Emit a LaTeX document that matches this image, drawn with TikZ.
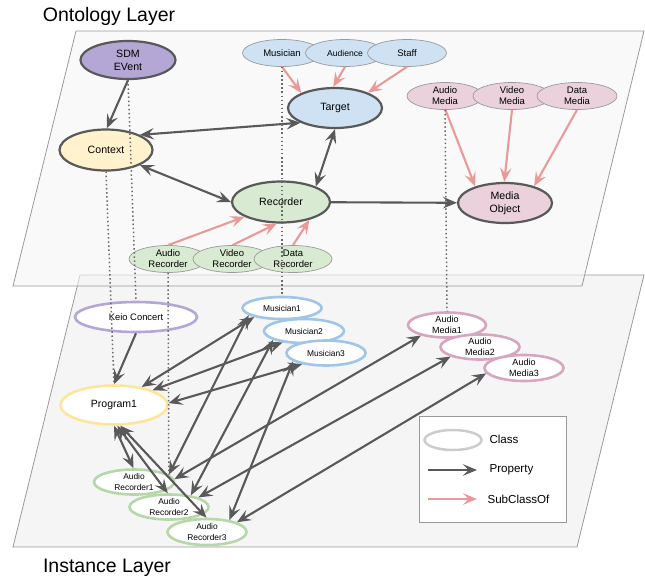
\documentclass[tikz,border=0pt]{standalone}
\usepackage{fontspec}
\setmainfont{Liberation Sans}
\usetikzlibrary{arrows.meta}
\usetikzlibrary{shapes.geometric}

\definecolor{dgray}{HTML}{595959}
\definecolor{lgray}{HTML}{9A9A9A}
\definecolor{planec}{HTML}{F5F5F5}
\definecolor{pinkc}{HTML}{EA9999}
\definecolor{purpf}{HTML}{B4A7D6}
\definecolor{yelf}{HTML}{FFF2CC}
\definecolor{bluef}{HTML}{CFE2F3}
\definecolor{greenf}{HTML}{D9EAD3}
\definecolor{pinkf}{HTML}{EAD1DC}
\definecolor{yeld}{HTML}{FFE599}
\definecolor{blued}{HTML}{9FC5E8}
\definecolor{pinkd}{HTML}{D5A6BD}
\definecolor{greend}{HTML}{B6D7A8}

\tikzset{
  bigcls/.style={ellipse, draw=dgray, line width=2.2pt, inner sep=0pt, align=center,
    font=\fontsize{10.6}{12.7}\selectfont},
  subcls/.style={ellipse, draw=lgray, line width=0.7pt, inner sep=0pt, align=center,
    minimum width=79, minimum height=27, font=\fontsize{9.5}{11}\selectfont},
  inst/.style={ellipse, line width=2.6pt, fill=white, inner sep=0pt, align=center,
    minimum width=79, minimum height=25, font=\fontsize{8.4}{10.7}\selectfont},
  tip/.tip={Stealth[length=14pt,width=11.5pt,inset=5.5pt]},
  prop/.style={draw=dgray, line width=2.1pt, -tip},
  bprop/.style={draw=dgray, line width=2.1pt, tip-tip},
  subc/.style={draw=pinkc, line width=2.1pt, -tip},
  proj/.style={draw=dgray!90, line width=1.5pt, dash pattern=on 1.5pt off 2.6pt},
  layer/.style={font=\fontsize{19.5}{22}\selectfont}
}

\begin{document}
\begin{tikzpicture}[x=1pt,y=-1pt]
  \useasboundingbox (0,0) rectangle (645,582);

  % planes
  \filldraw[fill=planec, draw=lgray, line width=0.8pt] (80,275) -- (644,275) -- (577,547) -- (13,547) -- cycle;
  \filldraw[fill=planec, fill opacity=0.6, draw=lgray, line width=0.8pt] (76,31) -- (644,31) -- (582,286) -- (13,286) -- cycle;

  \node[layer] (ontotitle) at (109,16) {Ontology Layer};
  \node[layer] (insttitle) at (107,568) {Instance Layer};

  % ontology layer
  \node[bigcls, fill=purpf, minimum width=95, minimum height=38] (sdm) at (128,60) {SDM\\EVent};
  \node[bigcls, fill=yelf, minimum width=93, minimum height=41] (context) at (106,150) {Context};
  \node[bigcls, fill=bluef, minimum width=94, minimum height=40] (target) at (335,108) {Target};
  \node[bigcls, fill=greenf, minimum width=98, minimum height=41] (recorder) at (281,202) {Recorder};
  \node[bigcls, fill=pinkf, minimum width=94, minimum height=40] (media) at (505,203) {Media\\Object};

  \node[subcls, fill=bluef] (musician) at (282,53) {Musician};
  \node[subcls, fill=bluef, font=\fontsize{8.6}{10}\selectfont] (audience) at (345,53) {Audience};
  \node[subcls, fill=bluef] (staff) at (407,53) {Staff};

  \node[subcls, fill=pinkf, minimum width=76] (amedia) at (445,96) {Audio\\Media};
  \node[subcls, fill=pinkf, minimum width=78] (vmedia) at (512,96) {Video\\Media};
  \node[subcls, fill=pinkf, minimum width=80] (dmedia) at (577,96) {Data\\Media};

  \node[subcls, fill=greenf, minimum width=78] (arec) at (168,259) {Audio\\Recorder};
  \node[subcls, fill=greenf, minimum width=78] (vrec) at (232,259) {Video\\Recorder};
  \node[subcls, fill=greenf, minimum width=78] (drec) at (293,259) {Data\\Recorder};

  \draw[prop] (sdm.-90) -- (context.88);
  \draw[bprop] (context.24) -- (target.-157);
  \draw[bprop] (context.-24) -- (recorder.180);
  \draw[bprop] (target.-90) -- (recorder.24);
  \draw[prop] (recorder) -- (media);

  \draw[subc] (musician.-90) -- (target.156);
  \draw[subc] (audience.-90) -- (target.95);
  \draw[subc] (staff.-90) -- (target.25);
  \draw[subc] (amedia.-88) -- (media.151);
  \draw[subc] (vmedia.-90) -- (media.92);
  \draw[subc] (dmedia.-90) -- (media.30);
  \draw[subc] (arec.90) -- (recorder.-158);
  \draw[subc] (vrec.88) -- (recorder.-101);
  \draw[subc] (drec.90) -- (recorder.-32);

  % instance layer
  \node[inst, draw=purpf, minimum width=122, minimum height=30, font=\fontsize{9.4}{11}\selectfont] (keio) at (136,317) {Keio Concert};
  \node[inst, draw=yeld, minimum width=107, minimum height=39, font=\fontsize{10.5}{12}\selectfont] (prog) at (114,405) {Program1};

  \node[inst, draw=blued, minimum height=22] (mus1) at (282,308) {Musician1};
  \node[inst, draw=blued, minimum width=80, minimum height=24] (mus2) at (304,331) {Musician2};
  \node[inst, draw=blued] (mus3) at (326,353) {Musician3};

  \node[inst, draw=pinkd, minimum width=78, font=\fontsize{9}{10.7}\selectfont] (amed1) at (447,325) {Audio\\Media1};
  \node[inst, draw=pinkd, font=\fontsize{9}{10.7}\selectfont] (amed2) at (480,347) {Audio\\Media2};
  \node[inst, draw=pinkd, minimum height=26, font=\fontsize{9}{10.7}\selectfont] (amed3) at (524,368) {Audio\\Media3};

  \node[inst, draw=greend, minimum width=80] (arec1) at (134,482) {Audio\\Recorder1};
  \node[inst, draw=greend] (arec2) at (169,507) {Audio\\Recorder2};
  \node[inst, draw=greend, minimum height=26] (arec3) at (207,532) {Audio\\Recorder3};

  \draw[prop] (keio.-90) -- (prog.90);
  \draw[bprop] (prog.33) -- (mus1.-162);
  \draw[bprop] (prog.21) -- (mus2.-152);
  \draw[bprop] (prog.2) -- (mus3.-155);
  \draw[bprop] (prog.-90) -- (arec1.92);
  \draw[bprop] (prog.-81) -- (arec2.95);
  \draw[bprop] (prog.-73) -- (arec3.92);

  \draw[bprop] (mus1.-168) -- (arec1.12);
  \draw[bprop] (mus2.-164) -- (arec2.28);
  \draw[bprop] (mus3.-166) -- (arec3.28);

  \draw[bprop] (amed1.-158) -- (arec1.4);
  \draw[bprop] (amed2.-162) -- (arec2.18);
  \draw[bprop] (amed3.-172) -- (arec3.18);

  % projections
  \draw[proj] (sdm.south) -- (keio.north);
  \draw[proj] (context.south) -- (prog.north);
  \draw[proj] (arec.south) -- (arec1.12);
  \draw[proj] (musician.south) -- (mus1.north);
  \draw[proj] (amedia.south) -- (amed1.north);

  % legend
  \node[draw=lgray, line width=1pt, fill=white, minimum width=147, minimum height=106] (legend) at (492.5,469) {};
  \node[ellipse, draw=black!20, line width=2.5pt, minimum width=57, minimum height=20, inner sep=0pt] (lgcls) at (453,440) {};
  \coordinate (lgpa) at (428,470);
  \coordinate (lgpb) at (477,470);
  \coordinate (lgsa) at (428,499);
  \coordinate (lgsb) at (477,499);
  \draw[prop] (lgpa) -- (lgpb);
  \draw[subc] (lgsa) -- (lgsb);
  \node[anchor=west, font=\fontsize{11.6}{13}\selectfont] (lgclstxt) at (486,439) {Class};
  \node[anchor=west, font=\fontsize{11.6}{13}\selectfont] (lgproptxt) at (486,470) {Property};
  \node[anchor=west, font=\fontsize{11.6}{13}\selectfont] (lgsubtxt) at (484,499) {SubClassOf};
\end{tikzpicture}
\end{document}
